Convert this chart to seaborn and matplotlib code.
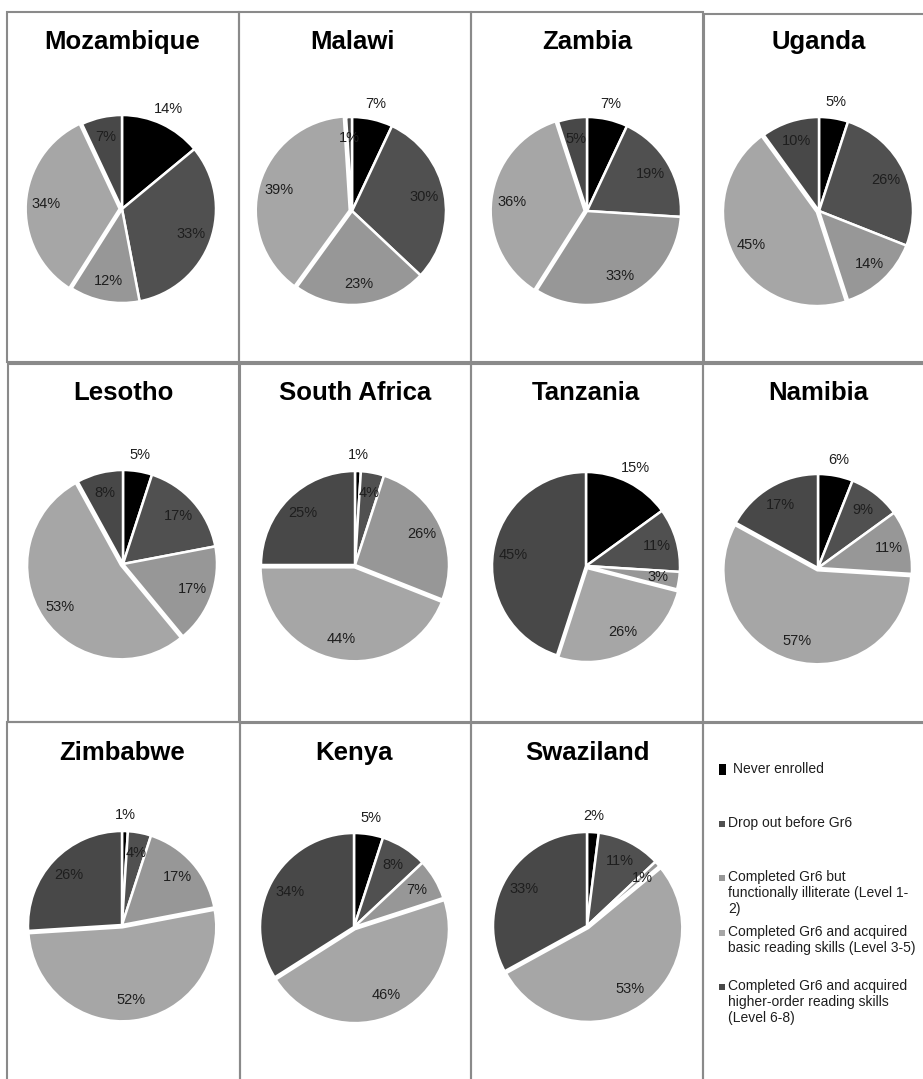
import matplotlib
matplotlib.use("Agg")
import matplotlib.pyplot as plt
import seaborn as sns
import numpy as np
from matplotlib.patches import Rectangle

# ---------------- data ----------------
countries = ["Mozambique", "Malawi", "Zambia", "Uganda",
             "Lesotho", "South Africa", "Tanzania", "Namibia",
             "Zimbabwe", "Kenya", "Swaziland"]
never_enrolled = [14, 7, 7, 5, 5, 1, 15, 6, 1, 5, 2]
drop_out       = [33, 30, 19, 26, 17, 4, 11, 9, 4, 8, 11]
illiterate     = [12, 23, 33, 14, 17, 26, 3, 11, 17, 7, 1]
basic_reading  = [34, 39, 36, 45, 53, 44, 26, 57, 52, 46, 53]
higher_order   = [7, 1, 5, 10, 8, 25, 45, 17, 26, 34, 33]
categories = ["Never enrolled",
              "Drop out before Gr6",
              "Completed Gr6 but\nfunctionally illiterate (Level 1-\n2)",
              "Completed Gr6 and acquired\nbasic reading skills (Level 3-5)",
              "Completed Gr6 and acquired\nhigher-order reading skills\n(Level 6-8)"]
colors = ["#000000", "#505050", "#979797", "#a6a6a6", "#484848"]

# ---------------- style ----------------
sns.set_theme(style="white")
plt.rcParams["font.family"] = ["Liberation Sans", "DejaVu Sans"]

W, H = 923, 1079
fig = plt.figure(figsize=(W / 100, H / 100), dpi=100)
fig.patch.set_facecolor("white")


def fx(x):
    return x / W


def fy(y):
    return 1 - y / H


# cell frames (pixel boxes: x0, y0, x1, y1)
boxes = [(7, 12, 239, 362), (239, 12, 471, 362), (471, 12, 703, 362), (704, 14, 930, 362),
         (8, 364, 239, 722), (240, 364, 471, 722), (471, 364, 703, 722), (703, 364, 930, 722),
         (7, 722, 240, 1090), (240, 723, 471, 1090), (471, 723, 703, 1090), (703, 723, 930, 1090)]
for (x0, y0, x1, y1) in boxes:
    fig.add_artist(Rectangle((fx(x0), fy(y1)), fx(x1) - fx(x0), fy(y0) - fy(y1),
                             transform=fig.transFigure, fill=False,
                             edgecolor="#8a8a8a", linewidth=1.5))

centers = [(122, 209), (352, 211), (587, 211), (819, 211),
           (123, 564), (355, 565), (586, 566), (818, 568),
           (122, 925), (354, 927), (587, 926)]
title_y = [42, 42, 42, 42, 393, 393, 393, 393, 753, 753, 753]
R = 94
M = 40

for i, name in enumerate(countries):
    cx, cy = centers[i]
    vals = [never_enrolled[i], drop_out[i], illiterate[i], basic_reading[i], higher_order[i]]
    ax = fig.add_axes([fx(cx - R - M), fy(cy + R + M), (2 * (R + M)) / W, (2 * (R + M)) / H])
    lim = 1 + M / R
    wedges, texts, autotexts = ax.pie(
        vals, colors=colors, startangle=90, counterclock=False, radius=1,
        explode=[0, 0, 0, 0.025, 0],
        autopct=lambda p: f"{p:.0f}%", pctdistance=0.78,
        wedgeprops=dict(edgecolor="white", linewidth=1.8),
        textprops=dict(fontsize=10.5, color="#1e1e1e"))
    # label of the black slice sits outside the pie
    w0 = wedges[0]
    ang = np.deg2rad((w0.theta1 + w0.theta2) / 2)
    autotexts[0].set_position((1.17 * np.cos(ang), 1.17 * np.sin(ang)))
    for t in autotexts:
        t.set_clip_on(False)
    ax.set_xlim(-lim, lim)
    ax.set_ylim(-lim, lim)
    ax.set_aspect("equal")
    ax.axis("off")
    fig.text(fx(cx), fy(title_y[i]), name, ha="center", va="center",
             fontsize=18.5, fontweight="bold", color="black")

# legend cell
leg_y = [770, 824, 878, 933, 987]
for k, lab in enumerate(categories):
    if k == 0:
        fig.add_artist(Rectangle((fx(719), fy(775)), 7 / W, 11 / H, transform=fig.transFigure,
                                 facecolor=colors[k], edgecolor="none"))
        tx = 733
    else:
        fig.add_artist(Rectangle((fx(719), fy(leg_y[k] + 3)), 6 / W, 6 / H, transform=fig.transFigure,
                                 facecolor=colors[k], edgecolor="none"))
        tx = 728
    fig.text(fx(tx), fy(leg_y[k] - 8), lab, ha="left", va="top",
             fontsize=10, color="#1e1e1e", linespacing=1.2)

fig.savefig("out.png", dpi=100, facecolor="white")
